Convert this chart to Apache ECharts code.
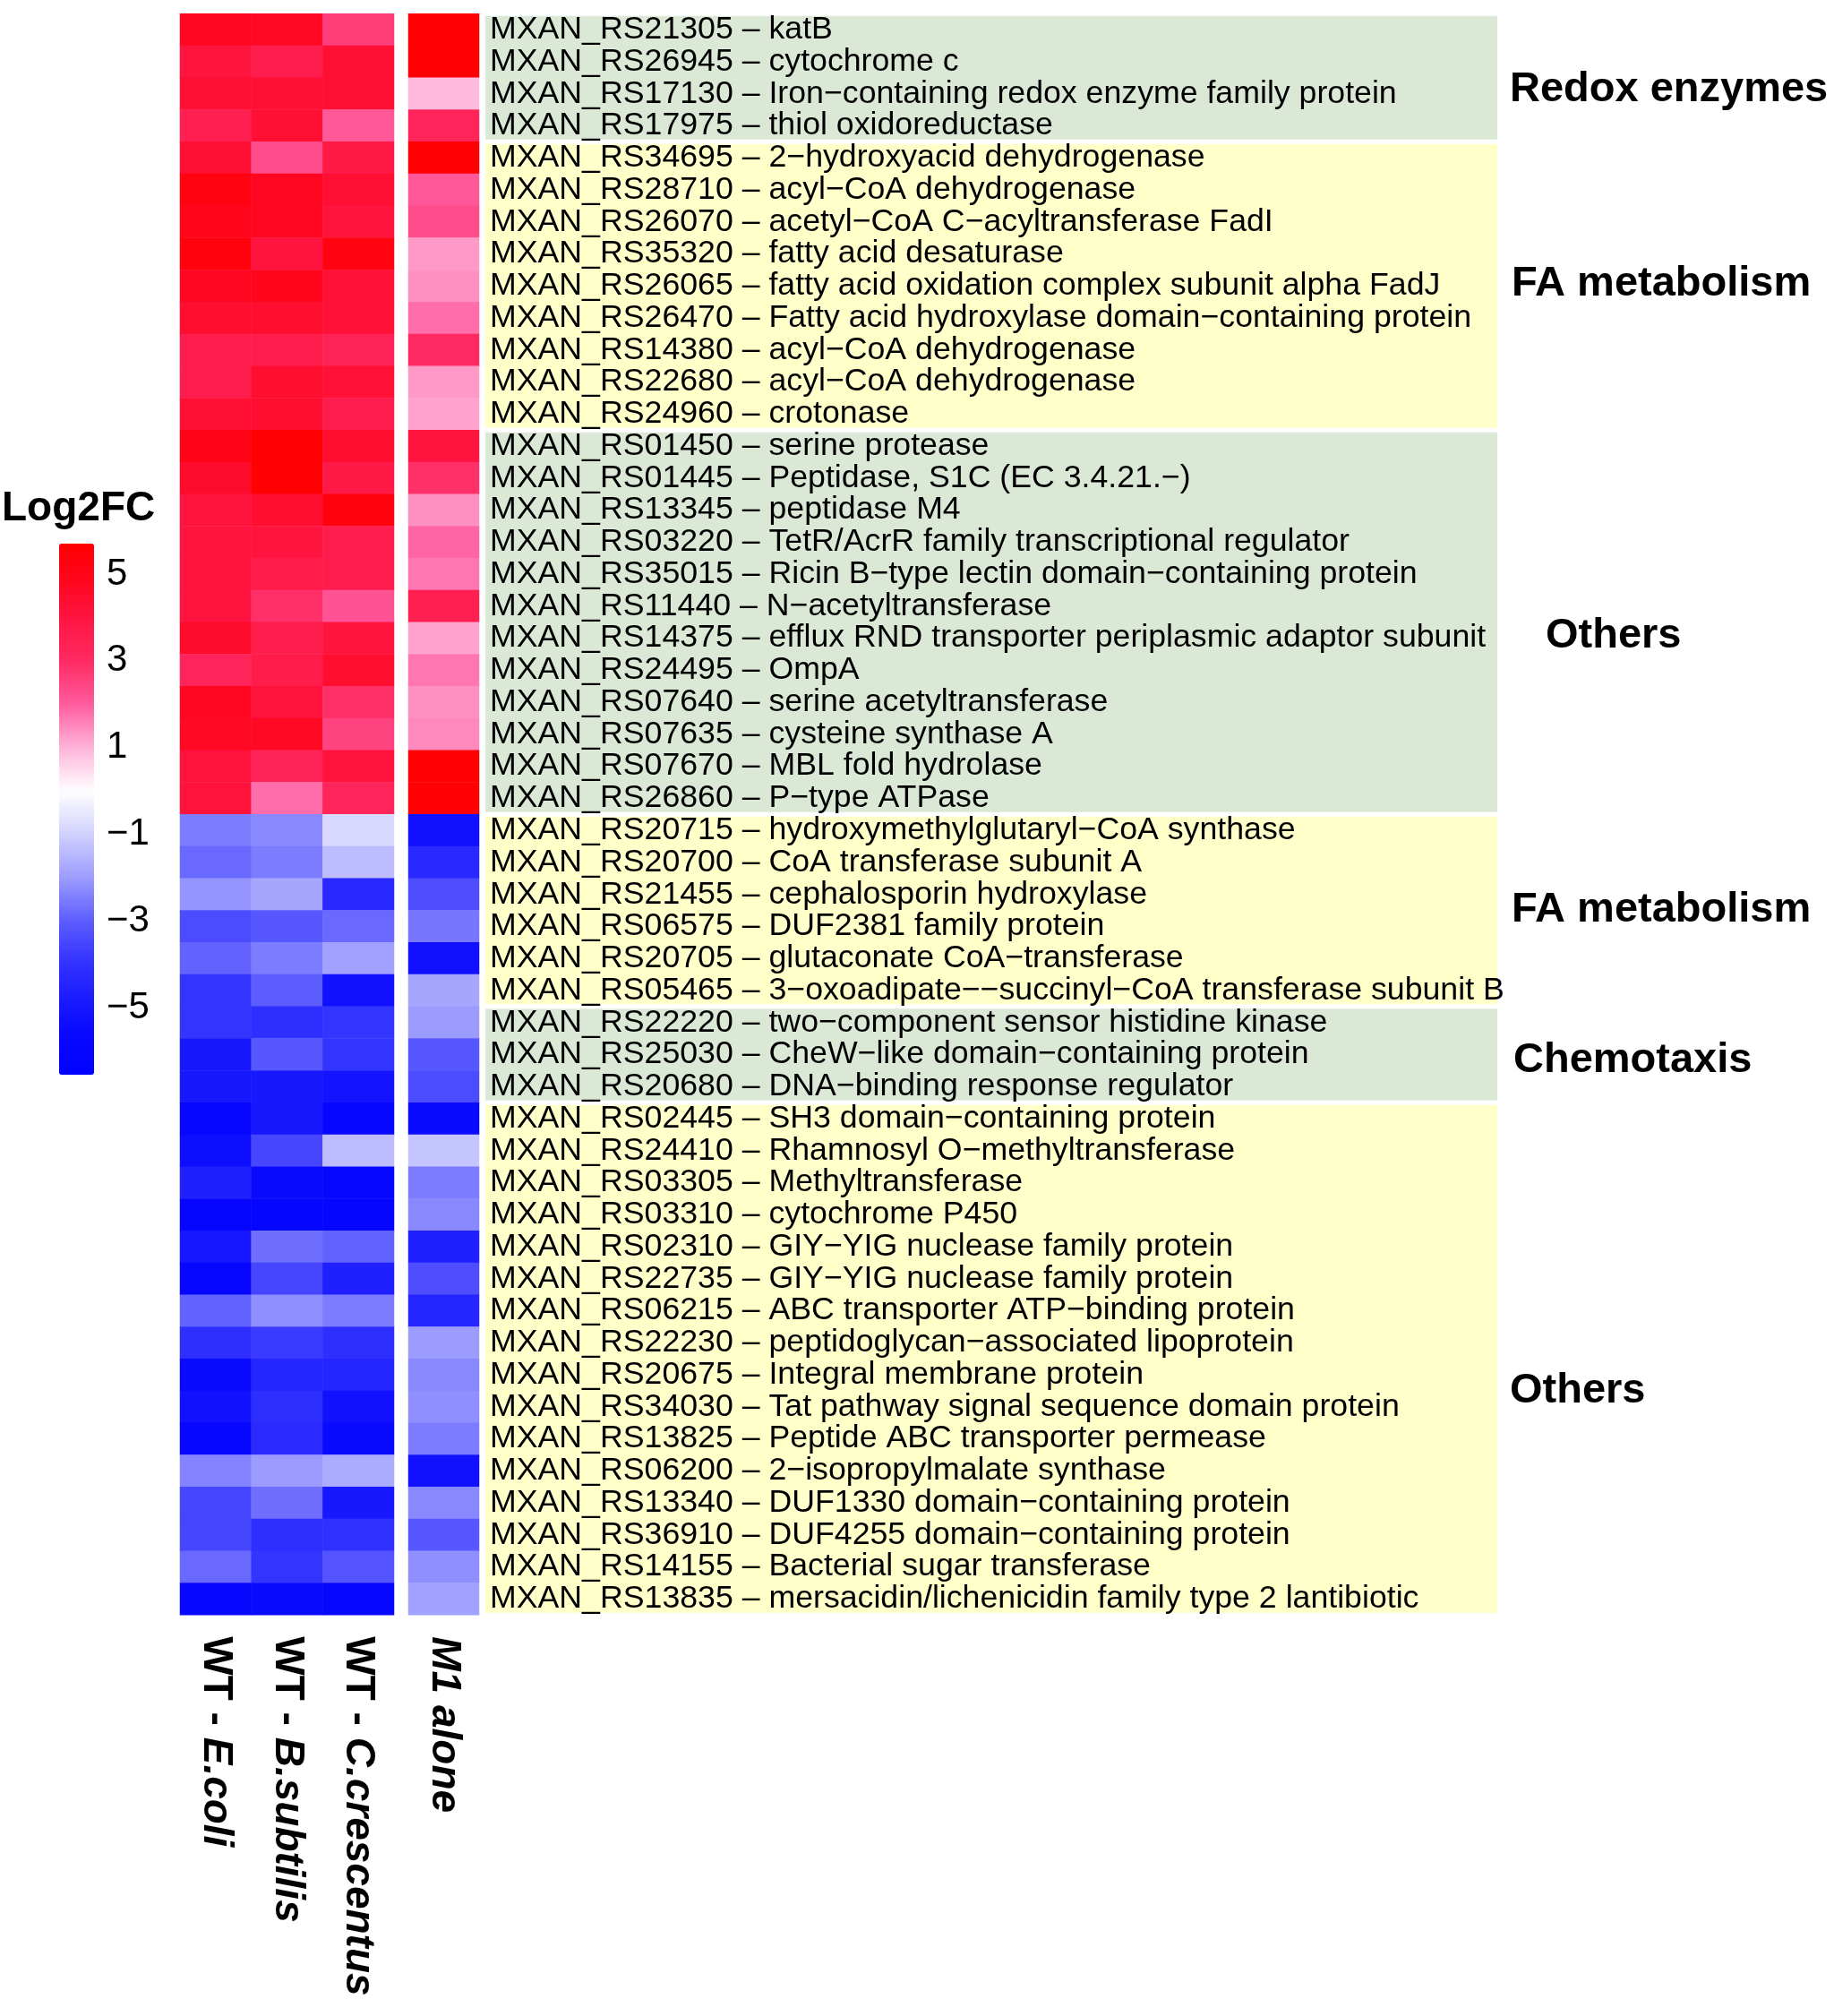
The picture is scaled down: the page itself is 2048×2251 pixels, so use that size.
<!DOCTYPE html>
<html>
<head>
<meta charset="utf-8">
<script src="https://cdn.jsdelivr.net/npm/echarts@6/dist/echarts.min.js"></script>
<style>
html,body{margin:0;padding:0;background:#fff;}
#chart{width:2048px;height:2251px;}
</style>
</head>
<body>
<div id="chart"></div>
<script>
// ---------- DATA ----------
const genes = [
"MXAN_RS21305 – katB",
"MXAN_RS26945 – cytochrome c",
"MXAN_RS17130 – Iron−containing redox enzyme family protein",
"MXAN_RS17975 – thiol oxidoreductase",
"MXAN_RS34695 – 2−hydroxyacid dehydrogenase",
"MXAN_RS28710 – acyl−CoA dehydrogenase",
"MXAN_RS26070 – acetyl−CoA C−acyltransferase FadI",
"MXAN_RS35320 – fatty acid desaturase",
"MXAN_RS26065 – fatty acid oxidation complex subunit alpha FadJ",
"MXAN_RS26470 – Fatty acid hydroxylase domain−containing protein",
"MXAN_RS14380 – acyl−CoA dehydrogenase",
"MXAN_RS22680 – acyl−CoA dehydrogenase",
"MXAN_RS24960 – crotonase",
"MXAN_RS01450 – serine protease",
"MXAN_RS01445 – Peptidase, S1C (EC 3.4.21.−)",
"MXAN_RS13345 – peptidase M4",
"MXAN_RS03220 – TetR/AcrR family transcriptional regulator",
"MXAN_RS35015 – Ricin B−type lectin domain−containing protein",
"MXAN_RS11440 – N−acetyltransferase",
"MXAN_RS14375 – efflux RND transporter periplasmic adaptor subunit",
"MXAN_RS24495 – OmpA",
"MXAN_RS07640 – serine acetyltransferase",
"MXAN_RS07635 – cysteine synthase A",
"MXAN_RS07670 – MBL fold hydrolase",
"MXAN_RS26860 – P−type ATPase",
"MXAN_RS20715 – hydroxymethylglutaryl−CoA synthase",
"MXAN_RS20700 – CoA transferase subunit A",
"MXAN_RS21455 – cephalosporin hydroxylase",
"MXAN_RS06575 – DUF2381 family protein",
"MXAN_RS20705 – glutaconate CoA−transferase",
"MXAN_RS05465 – 3−oxoadipate−−succinyl−CoA transferase subunit B",
"MXAN_RS22220 – two−component sensor histidine kinase",
"MXAN_RS25030 – CheW−like domain−containing protein",
"MXAN_RS20680 – DNA−binding response regulator",
"MXAN_RS02445 – SH3 domain−containing protein",
"MXAN_RS24410 – Rhamnosyl O−methyltransferase",
"MXAN_RS03305 – Methyltransferase",
"MXAN_RS03310 – cytochrome P450",
"MXAN_RS02310 – GIY−YIG nuclease family protein",
"MXAN_RS22735 – GIY−YIG nuclease family protein",
"MXAN_RS06215 – ABC transporter ATP−binding protein",
"MXAN_RS22230 – peptidoglycan−associated lipoprotein",
"MXAN_RS20675 – Integral membrane protein",
"MXAN_RS34030 – Tat pathway signal sequence domain protein",
"MXAN_RS13825 – Peptide ABC transporter permease",
"MXAN_RS06200 – 2−isopropylmalate synthase",
"MXAN_RS13340 – DUF1330 domain−containing protein",
"MXAN_RS36910 – DUF4255 domain−containing protein",
"MXAN_RS14155 – Bacterial sugar transferase",
"MXAN_RS13835 – mersacidin/lichenicidin family type 2 lantibiotic"
];

const wtColumns = ["WT - E.coli", "WT - B.subtilis", "WT - C.crescentus"];
const m1Column = ["M1 alone"];

const ecoli = [4.8,4.0,4.3,3.5,4.3,5.2,4.9,5.3,4.8,4.4,3.6,3.6,4.3,5.0,4.5,4.0,4.0,4.0,4.0,4.5,3.2,4.8,4.7,4.1,4.1,
  -2.5,-2.8,-2.1,-3.4,-2.9,-3.9,-3.9,-4.9,-4.9,-5.8,-5.3,-4.6,-5.9,-5.0,-5.8,-2.9,-4.1,-5.5,-5.2,-5.8,-2.4,-3.5,-3.5,-2.8,-5.8];
const bsubtilis = [4.7,3.6,4.3,4.3,2.3,4.8,4.8,4.0,4.9,4.4,3.6,4.4,4.4,5.6,5.6,4.4,4.0,3.7,2.9,3.6,3.7,4.1,4.7,3.3,1.8,
  -2.3,-2.5,-1.8,-3.1,-2.5,-3.0,-4.1,-3.1,-4.9,-4.9,-3.5,-5.5,-5.9,-2.7,-3.5,-2.2,-3.8,-4.4,-4.1,-4.2,-2.0,-2.7,-4.1,-3.9,-5.5];
const ccrescentus = [2.6,4.3,4.3,2.1,3.8,4.3,4.0,5.2,4.2,4.2,3.3,4.2,3.6,4.4,3.8,5.3,3.6,3.6,2.2,4.0,4.4,2.9,2.5,4.1,3.2,
  -0.8,-1.4,-4.3,-2.8,-1.9,-5.2,-3.9,-3.9,-5.1,-5.8,-1.4,-5.8,-5.9,-2.9,-4.6,-2.5,-4.1,-4.4,-5.2,-5.5,-1.7,-4.9,-4.0,-3.2,-5.8];
const m1alone = [5.6,5.6,0.9,3.2,5.6,2.1,2.3,1.3,1.4,1.8,3.0,1.3,1.2,4.0,2.9,1.4,1.9,1.7,3.5,1.2,1.7,1.4,1.5,5.6,5.6,
  -5.2,-4.3,-3.3,-2.6,-5.2,-1.8,-2.0,-3.1,-3.4,-5.5,-1.2,-2.5,-2.3,-4.6,-3.3,-4.4,-2.0,-2.3,-2.2,-2.5,-5.2,-2.3,-3.1,-2.2,-1.9];

const groupNames = ["Redox enzymes", "FA metabolism", "Others", "FA metabolism", "Chemotaxis", "Others"];
const groupStart = [0, 4, 13, 25, 31, 34];
const groupEnd   = [4, 13, 25, 31, 34, 50];   // exclusive

const legendTicks = [-5, -3, -1, 1, 3, 5];
const scaleMin = -6.53, scaleMax = 5.70;

// ---------- STYLE / LAYOUT ----------
const FONT = "'Liberation Sans', Arial, Helvetica, sans-serif";
const bandColors = ["#dce8d6", "#ffffca"];
const groupLabelX = [1144, 1146, 1184, 1146, 1148, 1144];   // in label-panel units
const groupLabelRow = [2.37, 8.44, 19.43, 27.98, 32.68, 43.0];
const bandEndX = 1130;

const colorStops = [
  [-6.53,'#0000ff'],[-5.5,'#0a0aff'],[-5,'#1515ff'],[-4,'#3030ff'],[-3,'#5c5cff'],
  [-2,'#9c9cff'],[-1,'#d0d0ff'],[0,'#ffffff'],[1,'#ffb4da'],[2,'#ff5c9e'],
  [3,'#ff2a62'],[4,'#ff1440'],[5,'#ff0418'],[5.70,'#ff0000']
];
function hexToRgb(h){return [parseInt(h.substr(1,2),16),parseInt(h.substr(3,2),16),parseInt(h.substr(5,2),16)];}
function colorAt(v){
  for(let i=0;i<colorStops.length-1;i++){
    const [v0,c0]=colorStops[i],[v1,c1]=colorStops[i+1];
    if(v>=v0 && v<=v1){
      const t=(v-v0)/(v1-v0), a=hexToRgb(c0), b=hexToRgb(c1);
      return 'rgb('+a.map((x,k)=>Math.round(x+(b[k]-x)*t)).join(',')+')';
    }
  }
  return v<colorStops[0][0]?colorStops[0][1]:colorStops[colorStops.length-1][1];
}
const ramp=[]; const NSTEP=300;
for(let i=0;i<=NSTEP;i++){ramp.push(colorAt(scaleMin+(scaleMax-scaleMin)*i/NSTEP));}

// ---------- BUILD ----------
const wtData=[];
[ecoli,bsubtilis,ccrescentus].forEach((col,ci)=>col.forEach((v,ri)=>wtData.push([ci,ri,v])));
const m1Data=m1alone.map((v,ri)=>[0,ri,v]);
const bandData=groupStart.map((s,i)=>[s,groupEnd[i],i%2]);
const labelData=groupNames.map((n,i)=>[groupLabelX[i],groupLabelRow[i],n]);

const gridTop=15.3, gridHeight=1788;
const hideAxis={axisLine:{show:false},axisTick:{show:false},splitLine:{show:false}};

const option={
  animation:false,
  backgroundColor:'#ffffff',
  textStyle:{fontFamily:FONT},
  title:{text:'Log2FC',left:2,top:545,padding:0,
    textStyle:{fontFamily:FONT,fontSize:46,fontWeight:'bold',color:'#000'}},
  grid:[
    {left:201,top:gridTop,width:239,height:gridHeight},
    {left:456,top:gridTop,width:79,height:gridHeight},
    {left:542,top:gridTop,width:1506,height:gridHeight},
    {left:66,top:607,width:39,height:593}
  ],
  xAxis:[
    Object.assign({type:'category',gridIndex:0,data:wtColumns,position:'bottom',
      axisLabel:{rotate:-90,margin:24,interval:0,
        formatter:v=>{const p=v.split(' - ');return '{n|'+p[0]+' - }{i|'+p[1]+'}';},
        rich:{n:{fontSize:46,fontWeight:'bold',fontFamily:FONT,color:'#000'},
              i:{fontSize:46,fontWeight:'bold',fontStyle:'italic',fontFamily:FONT,color:'#000'}}}},hideAxis),
    Object.assign({type:'category',gridIndex:1,data:m1Column,position:'bottom',
      axisLabel:{rotate:-90,margin:24,interval:0,
        formatter:v=>'{i|'+v+'}',
        rich:{i:{fontSize:46,fontWeight:'bold',fontStyle:'italic',fontFamily:FONT,color:'#000'}}}},hideAxis),
    Object.assign({type:'value',gridIndex:2,min:0,max:1506,show:false},hideAxis),
    Object.assign({type:'value',gridIndex:3,min:0,max:1,show:false},hideAxis)
  ],
  yAxis:[
    Object.assign({type:'category',gridIndex:0,data:genes,inverse:true,show:false},hideAxis),
    Object.assign({type:'category',gridIndex:1,data:genes,inverse:true,show:false},hideAxis),
    Object.assign({type:'category',gridIndex:2,data:genes,inverse:true,position:'left',
      axisLabel:{inside:true,margin:5,interval:0,fontSize:35.7,fontFamily:FONT,color:'#000'}},hideAxis),
    Object.assign({type:'value',gridIndex:2,min:0,max:50,inverse:true,show:false},hideAxis),
    Object.assign({type:'value',gridIndex:3,min:scaleMin,max:scaleMax,position:'right',
      axisLabel:{show:true,margin:14,fontSize:42,fontFamily:FONT,color:'#000',
        customValues:legendTicks,
        formatter:v=>String(v).replace('-','−')}},hideAxis)
  ],
  visualMap:{
    type:'continuous',min:scaleMin,max:scaleMax,seriesIndex:[0,1],
    orient:'vertical',left:66,top:607,itemWidth:39,itemHeight:593,padding:0,
    calculable:false,hoverLink:false,
    inRange:{color:ramp}
  },
  series:[
    {type:'heatmap',xAxisIndex:0,yAxisIndex:0,data:wtData,itemStyle:{borderWidth:0}},
    {type:'heatmap',xAxisIndex:1,yAxisIndex:1,data:m1Data,itemStyle:{borderWidth:0}},
    {type:'custom',xAxisIndex:2,yAxisIndex:3,z:0,data:bandData,silent:true,
      renderItem:(params,api)=>{
        const p0=api.coord([0,api.value(0)]);
        const p1=api.coord([bandEndX,api.value(1)]);
        return {type:'rect',shape:{x:p0[0],y:p0[1]+2.5,width:p1[0]-p0[0],height:p1[1]-p0[1]-5},
          style:{fill:bandColors[api.value(2)]}};
      }},
    {type:'scatter',xAxisIndex:2,yAxisIndex:3,symbolSize:0,data:labelData,silent:true,
      itemStyle:{opacity:1},
      label:{show:true,position:'right',distance:0,formatter:p=>p.data[2],opacity:1,
        fontSize:47,fontWeight:'bold',fontFamily:FONT,color:'#000'}}
  ]
};
const chart=echarts.init(document.getElementById('chart'));
chart.setOption(option);
</script>
</body>
</html>
